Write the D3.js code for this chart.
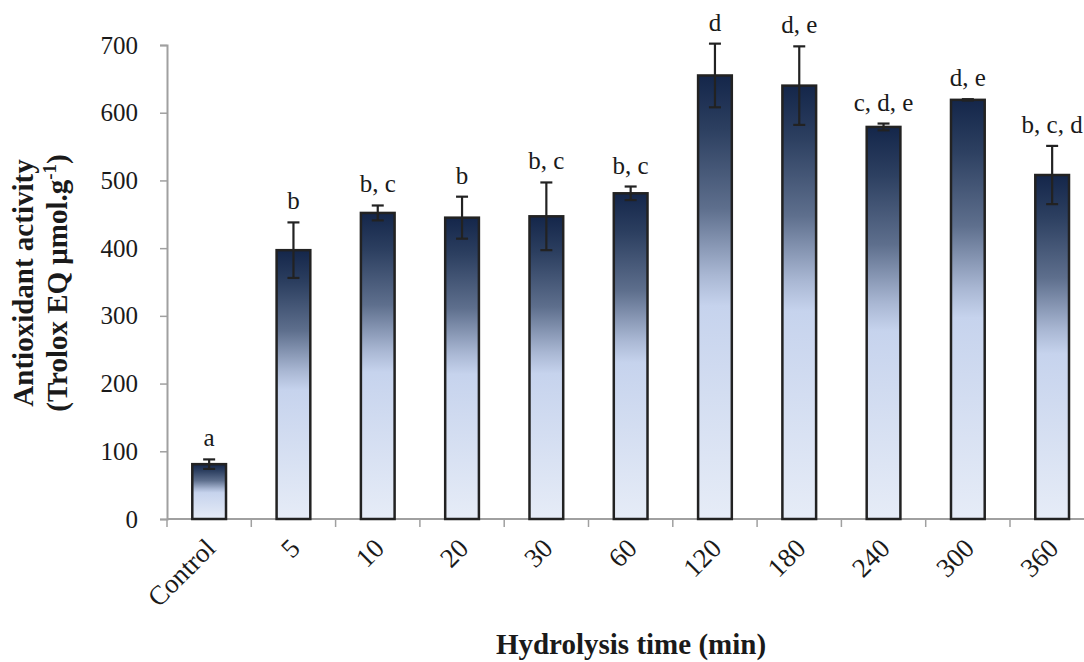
<!DOCTYPE html>
<html>
<head>
<meta charset="utf-8">
<script src="https://cdn.jsdelivr.net/npm/d3@7"></script>
<style>
  html, body { margin: 0; padding: 0; background: #fff; }
  svg { display: block; }
  text { font-family: "Liberation Serif", "Times New Roman", serif; fill: #1a1a1a; }
</style>
</head>
<body>
<svg id="chart" width="1084" height="662"></svg>
<script>
// Hydrolysis time categories and measured antioxidant activity
const categories = ["Control", "5", "10", "20", "30", "60", "120", "180", "240", "300", "360"];
const values = [81, 397, 452, 445, 447, 481, 655, 640, 579, 619, 508];
const errors = [7, 41, 11, 31, 50, 10, 47, 58, 5, 1, 43];
const letters = ["a", "b", "b, c", "b", "b, c", "b, c", "d", "d, e", "c, d, e", "d, e", "b, c, d"];
const yTicks = [0, 100, 200, 300, 400, 500, 600, 700];

const svg = d3.select("#chart");

const x = d3.scaleBand()
  .domain(categories)
  .range([167, 1094.3])
  .paddingInner(0.6)
  .paddingOuter(0.3);

const y = d3.scaleLinear().domain([0, 700]).range([519, 45]);

// Vertical gradient: navy at the top of each bar fading to pale blue
const defs = svg.append("defs");
const grad = defs.append("linearGradient")
  .attr("id", "barFill")
  .attr("x1", 0).attr("y1", 0).attr("x2", 0).attr("y2", 1);
[[0, "#14264a"], [0.12, "#2c3f60"], [0.3, "#5e6f8d"], [0.45, "#a9b7d3"], [0.52, "#c6d3ed"], [1, "#e6ecf7"]]
  .forEach(([o, c]) => grad.append("stop").attr("offset", o).attr("stop-color", c));

// Y axis
const yAxis = svg.append("g")
  .attr("transform", `translate(167,0)`)
  .call(d3.axisLeft(y).tickValues(yTicks).tickSize(7).tickPadding(22));
yAxis.select(".domain").attr("stroke", "#a0a0a0").attr("stroke-width", 2);
yAxis.selectAll(".tick line").attr("stroke", "#a0a0a0").attr("stroke-width", 1.5);
yAxis.selectAll(".tick text")
  .attr("font-family", "Liberation Serif, Times New Roman, serif")
  .attr("font-size", 25)
  .attr("fill", "#1a1a1a");

// X axis baseline with ticks at category boundaries
const boundaries = d3.range(categories.length + 1).map(i => x.range()[0] + i * x.step());
svg.append("line")
  .attr("x1", 167).attr("x2", 1084)
  .attr("y1", y(0)).attr("y2", y(0))
  .attr("stroke", "#a0a0a0").attr("stroke-width", 2);
svg.selectAll(".xtick")
  .data(boundaries)
  .join("line")
  .attr("class", "xtick")
  .attr("x1", d => d).attr("x2", d => d)
  .attr("y1", y(0)).attr("y2", y(0) + 8)
  .attr("stroke", "#a0a0a0").attr("stroke-width", 1.5);

// Bars
svg.selectAll(".bar")
  .data(values)
  .join("rect")
  .attr("class", "bar")
  .attr("x", (d, i) => x(categories[i]))
  .attr("y", d => y(d))
  .attr("width", x.bandwidth())
  .attr("height", d => y(0) - y(d))
  .attr("fill", "url(#barFill)")
  .attr("stroke", "#222")
  .attr("stroke-width", 2.5);

// Error bars
const cap = 6;
const eb = svg.append("g").attr("stroke", "#222").attr("stroke-width", 2.2);
values.forEach((v, i) => {
  const cx = x(categories[i]) + x.bandwidth() / 2;
  const hi = y(v + errors[i]);
  const lo = y(v - errors[i]);
  eb.append("line").attr("x1", cx).attr("x2", cx).attr("y1", hi).attr("y2", lo);
  eb.append("line").attr("x1", cx - cap).attr("x2", cx + cap).attr("y1", hi).attr("y2", hi);
  eb.append("line").attr("x1", cx - cap).attr("x2", cx + cap).attr("y1", lo).attr("y2", lo);
});

// Significance letters above error bars
svg.selectAll(".letter")
  .data(letters)
  .join("text")
  .attr("class", "letter")
  .attr("x", (d, i) => x(categories[i]) + x.bandwidth() / 2)
  .attr("y", (d, i) => y(values[i] + errors[i]) - 13)
  .attr("text-anchor", "middle")
  .attr("font-size", 25)
  .text(d => d);

// Rotated category labels
svg.selectAll(".xlabel")
  .data(categories)
  .join("text")
  .attr("class", "xlabel")
  .attr("transform", d => `translate(${x(d) + x.bandwidth() / 2 + 8},${y(0) + 31}) rotate(-45)`)
  .attr("text-anchor", "end")
  .attr("font-size", 27)
  .text(d => d);

// Axis titles
svg.append("text")
  .attr("x", 631).attr("y", 654)
  .attr("text-anchor", "middle")
  .attr("font-size", 29)
  .attr("font-weight", "bold")
  .text("Hydrolysis time (min)");

const yTitle = svg.append("text")
  .attr("transform", "translate(0,283) rotate(-90)")
  .attr("text-anchor", "middle")
  .attr("font-size", 29)
  .attr("font-weight", "bold");
yTitle.append("tspan").attr("x", 0).attr("y", 33).text("Antioxidant activity");
const l2 = yTitle.append("tspan").attr("x", 0).attr("y", 67);
l2.append("tspan").text("(Trolox EQ μmol.g");
l2.append("tspan").attr("dy", -11).attr("font-size", 19).text("-1");
l2.append("tspan").attr("dy", 11).text(")");
</script>
</body>
</html>
